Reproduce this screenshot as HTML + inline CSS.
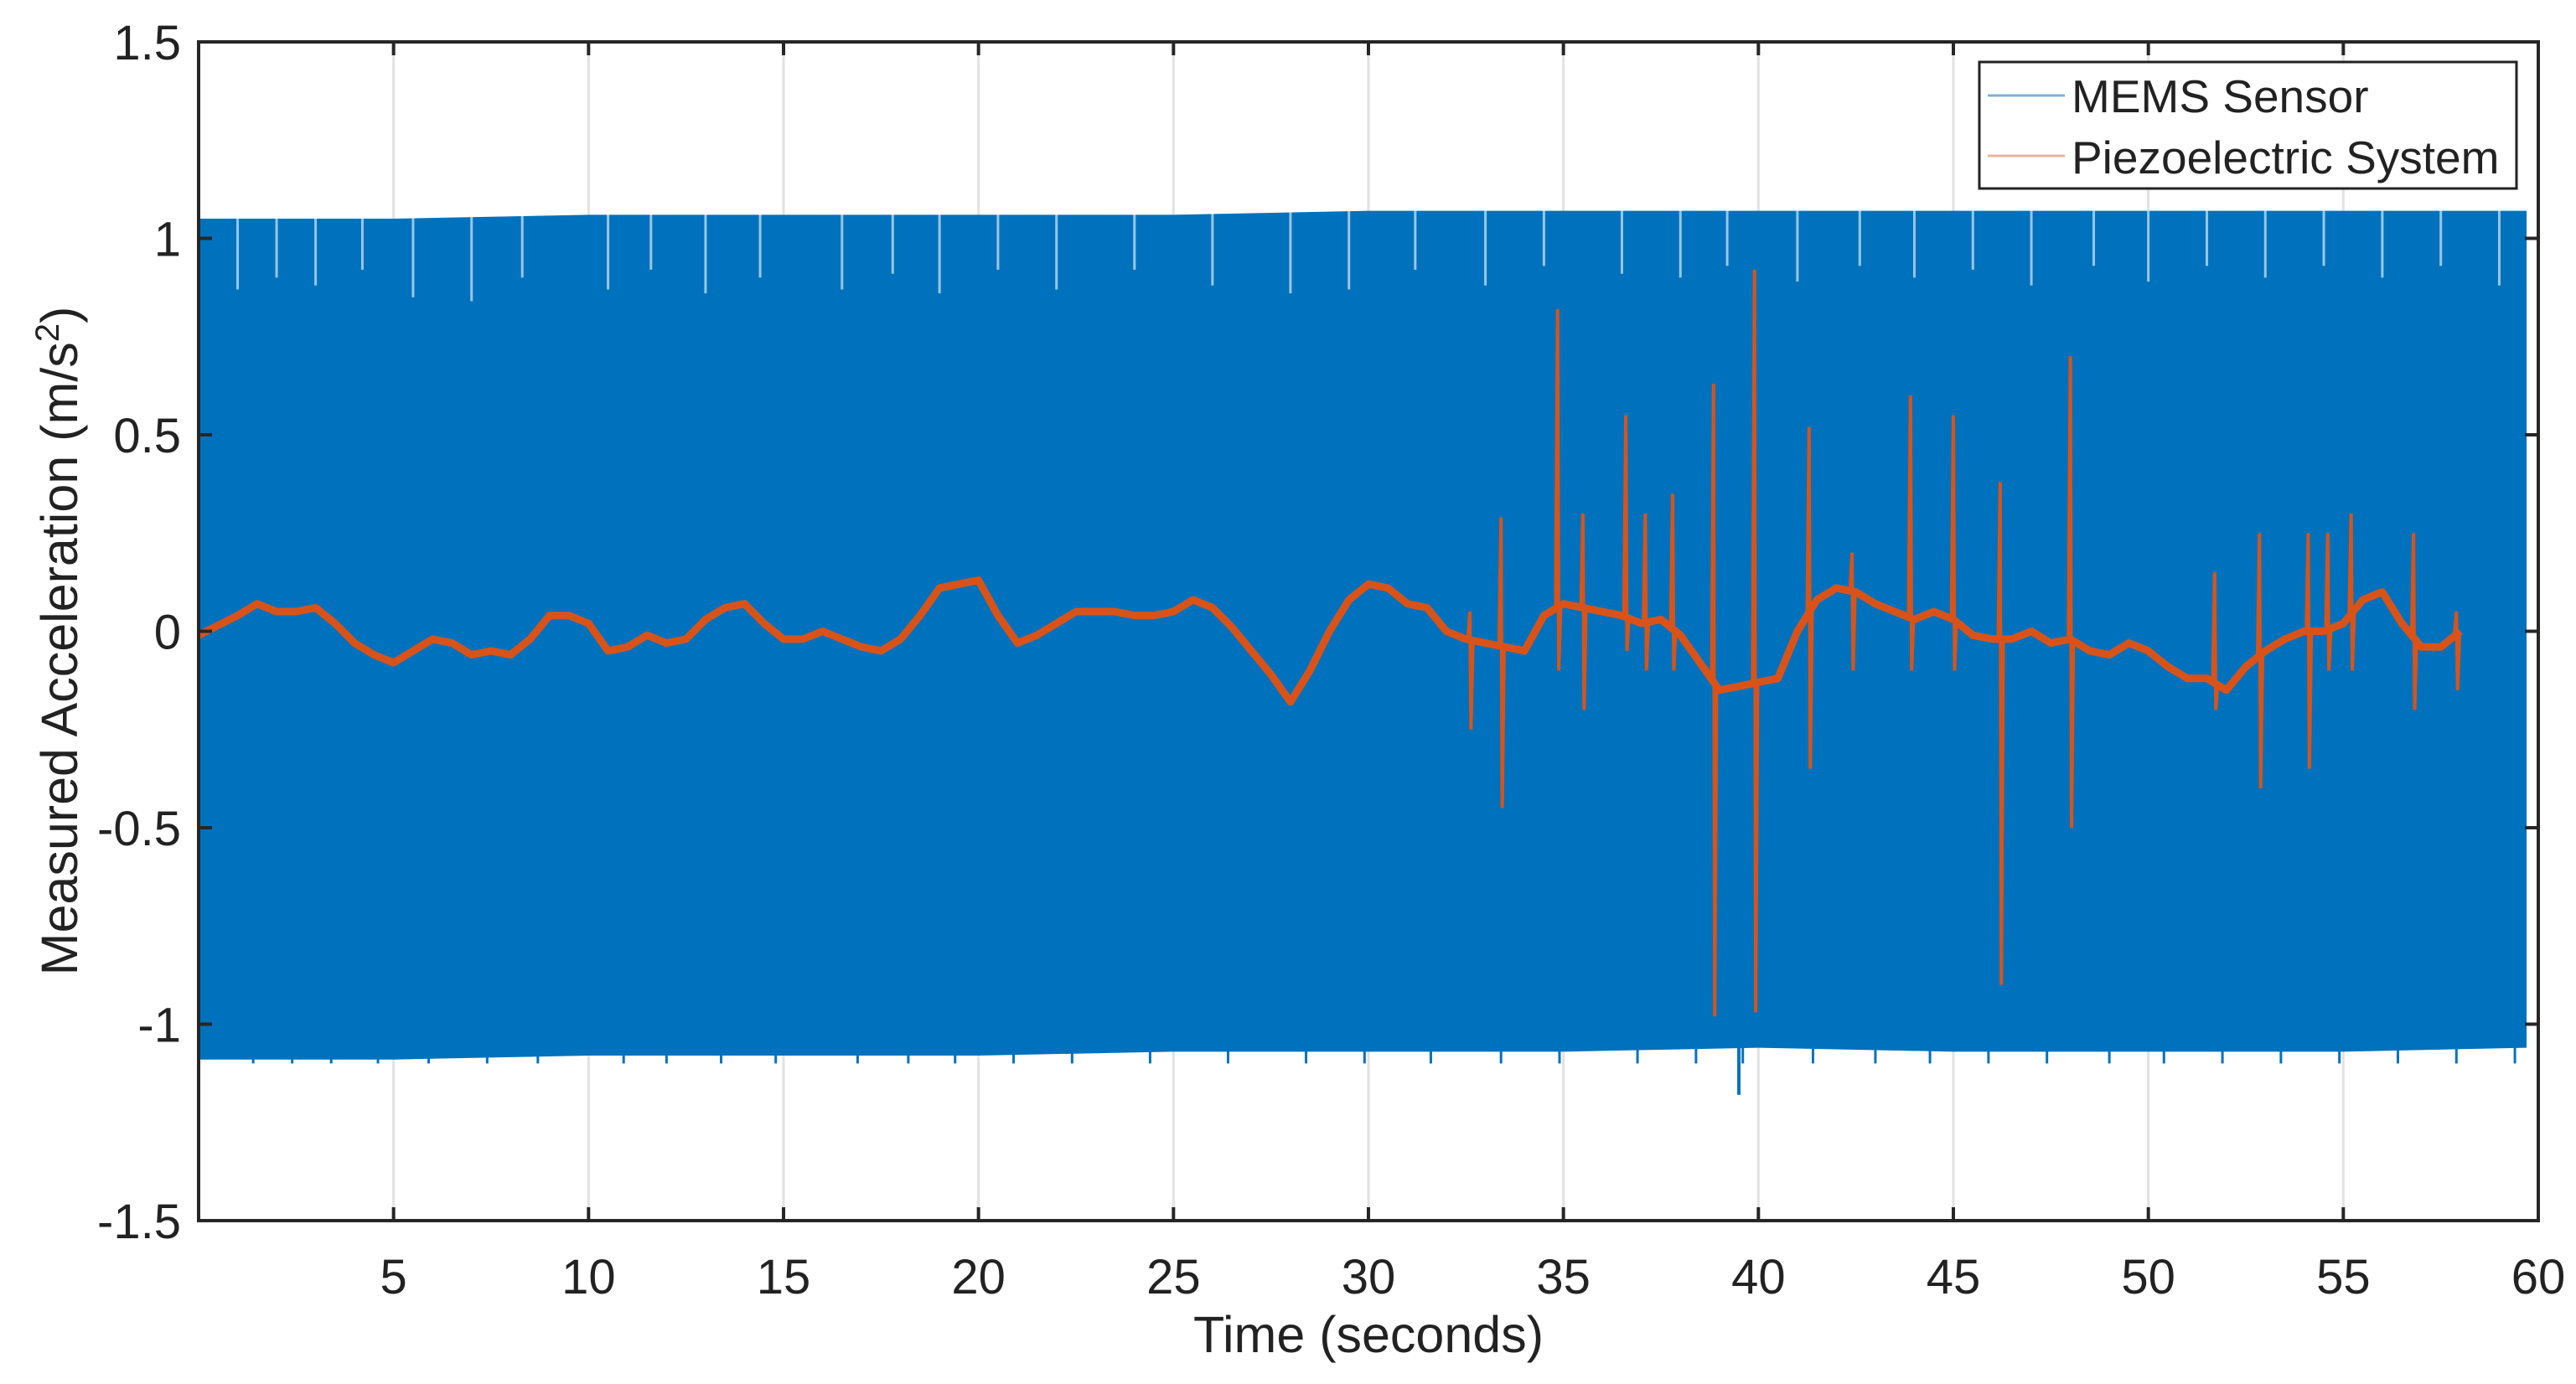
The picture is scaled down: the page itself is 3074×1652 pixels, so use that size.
<!DOCTYPE html>
<html><head><meta charset="utf-8"><style>
html,body{margin:0;padding:0;background:#fff}
svg{display:block;font-family:"Liberation Sans",Arial,sans-serif}
</style></head><body>
<svg id="chart" width="3074" height="1652" viewBox="0 0 3074 1652" xmlns="http://www.w3.org/2000/svg">
<g id="grid"></g>
<g id="mems"></g>
<g id="piezo"></g>
<g id="axes"></g>
<text x="1633" y="1614" font-size="61" text-anchor="middle" fill="#222">Time (seconds)</text>
<text transform="translate(92,765) rotate(-90)" font-size="61" text-anchor="middle" fill="#222">Measured Acceleration (m/s<tspan font-size="40" dy="-22">2</tspan><tspan dy="22">)</tspan></text>
<g>
<rect x="2362" y="74" width="641" height="151" fill="#fff" stroke="#222" stroke-width="3"/>
<line x1="2372" y1="114" x2="2464" y2="114" stroke="#7fb0d8" stroke-width="3"/>
<text x="2472" y="134" font-size="55" fill="#222">MEMS Sensor</text>
<line x1="2372" y1="186" x2="2464" y2="186" stroke="#e8b49e" stroke-width="3"/>
<text x="2472" y="207" font-size="55" fill="#222">Piezoelectric System</text>
</g>
</svg>
<script>
const xTicks=[5,10,15,20,25,30,35,40,45,50,55,60];
const yTicks=[-1.5,-1,-0.5,0,0.5,1,1.5];
const yTickLabels=["-1.5","-1","-0.5","0","0.5","1","1.5"];
const memsT=[0,5,10,15,20,25,30,35,40,45,50,55,59.7];
const memsUpper=[1.05,1.05,1.06,1.06,1.06,1.06,1.07,1.07,1.07,1.07,1.07,1.07,1.07];
const memsLower=[-1.09,-1.09,-1.08,-1.08,-1.08,-1.07,-1.07,-1.07,-1.06,-1.07,-1.07,-1.07,-1.06];
const memsFringeT=[1,2,3,4.2,5.5,7,8.3,10.5,11.6,13,14.4,16.5,17.8,19,20.5,22,24,26,28,29.5,31.2,33,34.5,36.5,38,39.2,41,42.6,44,45.5,47,48.6,50,51.5,53,54.5,56,57.5,59];
const memsFringeHi=[0.87,0.9,0.88,0.92,0.85,0.84,0.9,0.87,0.92,0.86,0.9,0.87,0.91,0.86,0.92,0.87,0.92,0.88,0.86,0.87,0.92,0.88,0.93,0.91,0.9,0.93,0.89,0.93,0.9,0.92,0.88,0.93,0.89,0.93,0.9,0.93,0.9,0.93,0.88];
const memsFringeLo=[-0.96,-1.0,-0.93,-1.01,-0.98,-1.0,-1.02,-0.97,-1.02,-0.98,-1.01,-0.98,-1.02,-0.97,-1.02,-0.98,-1.01,-0.98,-0.95,-0.96,-1.01,-1.0,-1.02,-0.98,-1.02,-1.01,-1.0,-1.02,-0.99,-1.02,-1.0,-1.02,-0.99,-1.02,-1.0,-1.02,-1.0,-1.02,-0.99];
const piezoT=[0,1,1.5,2,2.5,3,3.5,4,4.5,5,5.5,6,6.5,7,7.5,8,8.5,9,9.5,10,10.5,11,11.5,12,12.5,13,13.5,14,14.5,15,15.5,16,16.5,17,17.5,18,18.5,19,19.5,20,20.5,21,21.5,22,22.5,23,23.5,24,24.5,25,25.5,26,26.5,27,27.5,28,28.5,29,29.5,30,30.5,31,31.5,32,32.5,33,33.5,34,34.5,35,35.5,36,36.5,37,37.5,38,38.5,39,39.5,40,40.5,41,41.5,42,42.5,43,43.5,44,44.5,45,45.5,46,46.5,47,47.5,48,48.5,49,49.5,50,50.5,51,51.5,52,52.5,53,53.5,54,54.5,55,55.5,56,56.5,57,57.5,58];
const piezoV=[-0.01,0.04,0.07,0.05,0.05,0.06,0.02,-0.03,-0.06,-0.08,-0.05,-0.02,-0.03,-0.06,-0.05,-0.06,-0.02,0.04,0.04,0.02,-0.05,-0.04,-0.01,-0.03,-0.02,0.03,0.06,0.07,0.02,-0.02,-0.02,0,-0.02,-0.04,-0.05,-0.02,0.04,0.11,0.12,0.13,0.04,-0.03,-0.01,0.02,0.05,0.05,0.05,0.04,0.04,0.05,0.08,0.06,0.01,-0.05,-0.11,-0.18,-0.1,0,0.08,0.12,0.11,0.07,0.06,0,-0.02,-0.03,-0.04,-0.05,0.04,0.07,0.06,0.05,0.04,0.02,0.03,-0.01,-0.08,-0.15,-0.14,-0.13,-0.12,0,0.08,0.11,0.1,0.07,0.05,0.03,0.05,0.03,-0.01,-0.02,-0.02,0,-0.03,-0.02,-0.05,-0.06,-0.03,-0.05,-0.09,-0.12,-0.12,-0.15,-0.09,-0.05,-0.02,0,0,0.02,0.08,0.1,0.02,-0.04,-0.04,0];
const spikeT=[32.6,33.4,34.85,35.5,36.6,37.1,37.8,38.85,39.9,41.3,42.4,43.9,45.0,46.2,48.0,51.7,52.85,54.1,54.6,55.2,56.8,57.9];
const spikeHi=[0.05,0.29,0.82,0.3,0.55,0.3,0.35,0.63,0.92,0.52,0.2,0.6,0.55,0.38,0.7,0.15,0.25,0.25,0.25,0.3,0.25,0.05];
const spikeLo=[-0.25,-0.45,-0.1,-0.2,-0.05,-0.1,-0.1,-0.98,-0.97,-0.35,-0.1,-0.1,-0.1,-0.9,-0.5,-0.2,-0.4,-0.35,-0.1,-0.1,-0.2,-0.15];

const NS="http://www.w3.org/2000/svg";
const L=237,R=3029,T=50,B=1457,XMIN=0,XMAX=60,YMIN=-1.5,YMAX=1.5;
const sx=t=>L+(t-XMIN)/(XMAX-XMIN)*(R-L);
const sy=v=>B-(v-YMIN)/(YMAX-YMIN)*(B-T);
function mk(tag,parent,attrs){const e=document.createElementNS(NS,tag);for(const k in attrs)e.setAttribute(k,attrs[k]);parent.appendChild(e);return e;}
function interp(t){for(let i=1;i<piezoT.length;i++){if(t<=piezoT[i]){const f=(t-piezoT[i-1])/(piezoT[i]-piezoT[i-1]);return piezoV[i-1]+f*(piezoV[i]-piezoV[i-1]);}}return piezoV[piezoV.length-1];}

const grid=document.getElementById('grid');
xTicks.forEach(t=>{const g=mk('line',grid,{x1:sx(t),x2:sx(t),y1:T,y2:B,stroke:'#e2e2e2','stroke-width':3});

});
yTicks.forEach(v=>{const g=mk('line',grid,{x1:L,x2:R,y1:sy(v),y2:sy(v),stroke:'#e2e2e2','stroke-width':3});

});

const mems=document.getElementById('mems');
let pts=memsT.map((t,i)=>sx(t)+','+sy(memsUpper[i]));
for(let i=memsT.length-1;i>=0;i--)pts.push(sx(memsT[i])+','+sy(memsLower[i]));
const band=mk('polygon',mems,{points:pts.join(' '),fill:'#0072BD'});


memsFringeT.forEach((t,i)=>{
 const a=mk('line',mems,{x1:sx(t),x2:sx(t),y1:sy(1.07),y2:sy(memsFringeHi[i]),stroke:'#ffffff','stroke-width':3,opacity:0.6});
 
 
 const b=mk('line',mems,{x1:sx(t+0.4),x2:sx(t+0.4),y1:sy(memsFringeLo[i]),y2:sy(-1.1),stroke:'#0072BD','stroke-width':3});
 
 
});
const dip=mk('line',mems,{x1:sx(39.5),x2:sx(39.5),y1:sy(-1.0),y2:sy(-1.18),stroke:'#0072BD','stroke-width':4});



const piezo=document.getElementById('piezo');
const base=mk('polyline',piezo,{points:piezoT.map((t,i)=>sx(t)+','+sy(piezoV[i])).join(' '),fill:'none',stroke:'#D95319','stroke-width':9,'stroke-linejoin':'round'});


spikeT.forEach((t,i)=>{const b=interp(t);
 const s=mk('polyline',piezo,{points:[sx(t-0.05)+','+sy(b),sx(t)+','+sy(spikeHi[i]),sx(t+0.03)+','+sy(spikeLo[i]),sx(t+0.08)+','+sy(b)].join(' '),fill:'none',stroke:'#D95319','stroke-width':4});
 
 });

const axes=document.getElementById('axes');
const box=mk('rect',axes,{x:L,y:T,width:R-L,height:B-T,fill:'none',stroke:'#262626','stroke-width':4});


xTicks.forEach(t=>{
 [[B,B-16],[T,T+16]].forEach(p=>{const k=mk('line',axes,{x1:sx(t),x2:sx(t),y1:p[0],y2:p[1],stroke:'#262626','stroke-width':4});
 
 });
 const lb=mk('text',axes,{x:sx(t),y:1544,'font-size':58,'text-anchor':'middle',fill:'#222'});
 lb.textContent=String(t);
 
 
});
yTicks.forEach((v,i)=>{
 [[L,L+16],[R,R-16]].forEach(p=>{const k=mk('line',axes,{x1:p[0],x2:p[1],y1:sy(v),y2:sy(v),stroke:'#262626','stroke-width':4});
 
 });
 const lb=mk('text',axes,{x:216,y:sy(v)+21,'font-size':58,'text-anchor':'end',fill:'#222'});
 lb.textContent=yTickLabels[i];
 
 
});
</script>
</body></html>
